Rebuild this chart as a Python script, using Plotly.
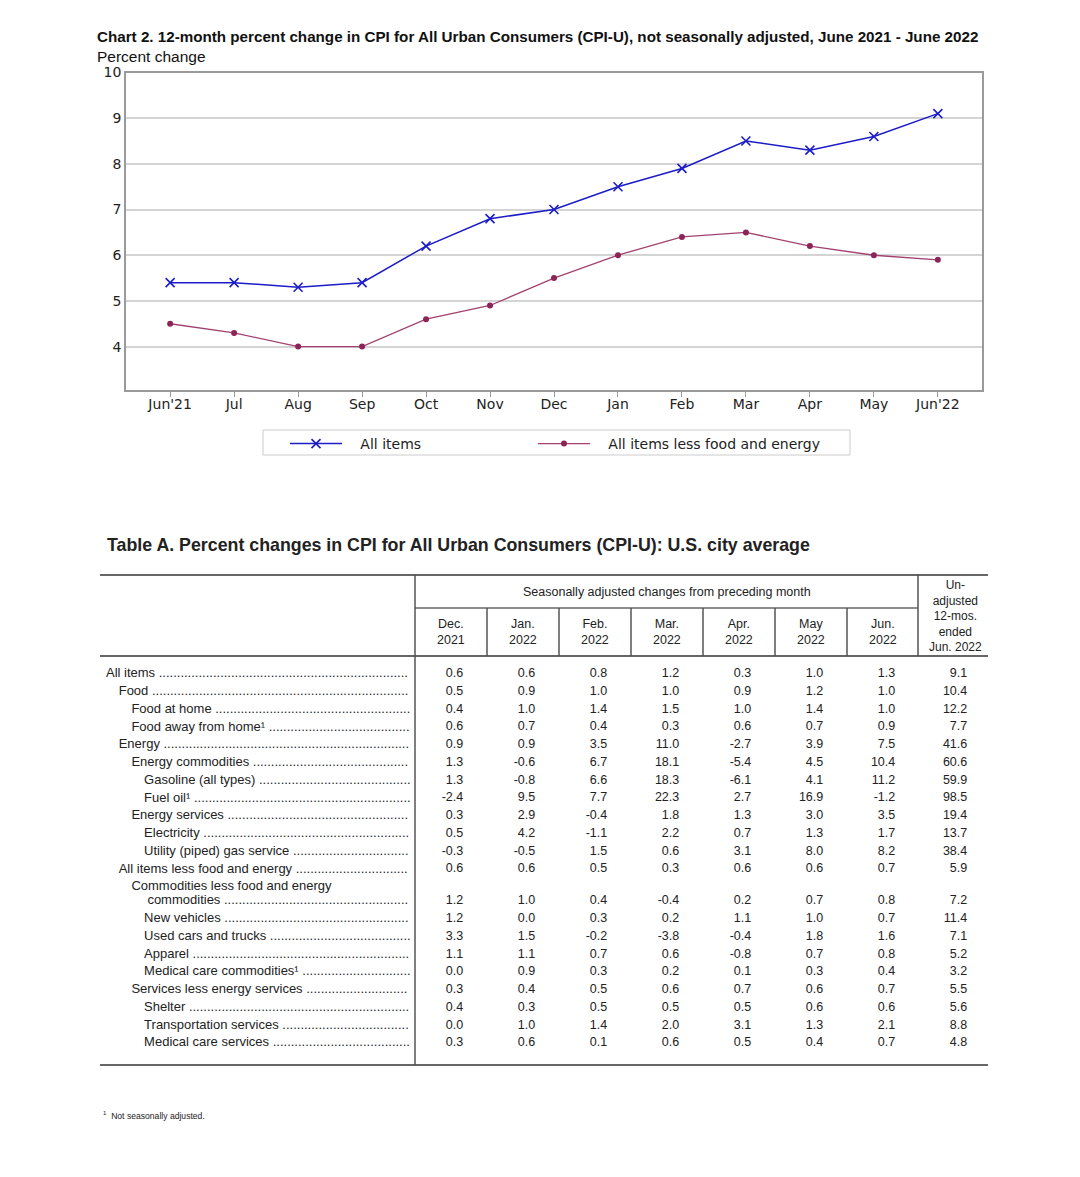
import plotly.graph_objects as go

# page has an 8px body margin; figure is sized so that it fits the 1080x1177 window
OFF = 8
W, H = 1080 - 2 * OFF, 1177 - 2 * OFF

# ---------------- chart data ----------------
months = ["Jun'21", "Jul", "Aug", "Sep", "Oct", "Nov", "Dec", "Jan", "Feb", "Mar", "Apr", "May", "Jun'22"]
all_items = [5.4, 5.4, 5.3, 5.4, 6.2, 6.8, 7.0, 7.5, 7.9, 8.5, 8.3, 8.6, 9.1]
core_items = [4.5, 4.3, 4.0, 4.0, 4.6, 4.9, 5.5, 6.0, 6.4, 6.5, 6.2, 6.0, 5.9]

# ---------------- table data ----------------
row_labels = [
    "All items", "Food", "Food at home", "Food away from home¹", "Energy",
    "Energy commodities", "Gasoline (all types)", "Fuel oil¹", "Energy services",
    "Electricity", "Utility (piped) gas service", "All items less food and energy",
    "Commodities less food and energy<br>commodities", "New vehicles",
    "Used cars and trucks", "Apparel", "Medical care commodities¹",
    "Services less energy services", "Shelter", "Transportation services",
    "Medical care services",
]
row_levels = [0, 1, 2, 2, 1, 2, 3, 3, 2, 3, 3, 1, 2, 3, 3, 3, 3, 2, 3, 3, 3]
col_headers = ["Dec.<br>2021", "Jan.<br>2022", "Feb.<br>2022", "Mar.<br>2022",
               "Apr.<br>2022", "May<br>2022", "Jun.<br>2022"]
unadj_header = "Un-<br>adjusted<br>12-mos.<br>ended<br>Jun. 2022"

dec_2021 = [0.6, 0.5, 0.4, 0.6, 0.9, 1.3, 1.3, -2.4, 0.3, 0.5, -0.3, 0.6, 1.2, 1.2, 3.3, 1.1, 0.0, 0.3, 0.4, 0.0, 0.3]
jan_2022 = [0.6, 0.9, 1.0, 0.7, 0.9, -0.6, -0.8, 9.5, 2.9, 4.2, -0.5, 0.6, 1.0, 0.0, 1.5, 1.1, 0.9, 0.4, 0.3, 1.0, 0.6]
feb_2022 = [0.8, 1.0, 1.4, 0.4, 3.5, 6.7, 6.6, 7.7, -0.4, -1.1, 1.5, 0.5, 0.4, 0.3, -0.2, 0.7, 0.3, 0.5, 0.5, 1.4, 0.1]
mar_2022 = [1.2, 1.0, 1.5, 0.3, 11.0, 18.1, 18.3, 22.3, 1.8, 2.2, 0.6, 0.3, -0.4, 0.2, -3.8, 0.6, 0.2, 0.6, 0.5, 2.0, 0.6]
apr_2022 = [0.3, 0.9, 1.0, 0.6, -2.7, -5.4, -6.1, 2.7, 1.3, 0.7, 3.1, 0.6, 0.2, 1.1, -0.4, -0.8, 0.1, 0.7, 0.5, 3.1, 0.5]
may_2022 = [1.0, 1.2, 1.4, 0.7, 3.9, 4.5, 4.1, 16.9, 3.0, 1.3, 8.0, 0.6, 0.7, 1.0, 1.8, 0.7, 0.3, 0.6, 0.6, 1.3, 0.4]
jun_2022 = [1.3, 1.0, 1.0, 0.9, 7.5, 10.4, 11.2, -1.2, 3.5, 1.7, 8.2, 0.7, 0.8, 0.7, 1.6, 0.8, 0.4, 0.7, 0.6, 2.1, 0.7]
unadj_12mo = [9.1, 10.4, 12.2, 7.7, 41.6, 60.6, 59.9, 98.5, 19.4, 13.7, 38.4, 5.9, 7.2, 11.4, 7.1, 5.2, 3.2, 5.5, 5.6, 8.8, 4.8]
table_columns = [dec_2021, jan_2022, feb_2022, mar_2022, apr_2022, may_2022, jun_2022, unadj_12mo]


def px(x):
    return (x - OFF) / W


def py(y):
    return 1 - (y - OFF) / H


BLUE = "#1c1cc8"
PLUM_LINE = "#a2426f"
PLUM_MARK = "#8c2457"
TXT = "#222222"
TFONT = "Liberation Sans, Arial, sans-serif"
CFONT = "DejaVu Sans, Verdana, sans-serif"
NARROW = "Liberation Sans Narrow, Liberation Sans, Arial"
NB = "\u00a0"
LABEL_SIZE = 13

# approximate Arial advance widths (per 1000 em) used to size the dot leaders
_AW = {" ": 278, ".": 278, "i": 222, "j": 222, "l": 222, "f": 278, "t": 278, "r": 333,
       "(": 333, ")": 333, "¹": 333, "c": 500, "k": 500, "s": 500, "v": 500, "x": 500,
       "y": 500, "z": 500, "m": 833, "w": 722, "A": 667, "C": 722, "E": 667, "F": 611,
       "G": 778, "M": 833, "N": 722, "S": 667, "T": 611, "U": 722}


def text_w(s, size):
    return sum(_AW.get(ch, 556) for ch in s) * size / 1000.0


fig = go.Figure()

# ---------------- line chart ----------------
fig.add_trace(go.Scatter(
    x=months, y=all_items, name=NB * 3 + "All items", mode="lines+markers",
    line=dict(color=BLUE, width=1.5),
    marker=dict(symbol="x-thin", size=9, line=dict(color=BLUE, width=1.6)),
    xaxis="x", yaxis="y", legend="legend",
))
fig.add_trace(go.Scatter(
    x=months, y=core_items, name=NB * 3 + "All items less food and energy", mode="lines+markers",
    line=dict(color=PLUM_LINE, width=1.3),
    marker=dict(symbol="circle", size=6, color=PLUM_MARK),
    xaxis="x", yaxis="y", legend="legend2",
))

# ---------------- table ----------------
LABEL_COL_W = 311
label_pos = []   # (y, text, indent_px)
value_pos = []
pos = -1.0
for lab, lev in zip(row_labels, row_levels):
    pos += 1.0
    parts = lab.split("<br>")
    indent = 6 + 12.7 * lev
    for i, part in enumerate(parts):
        last = i == len(parts) - 1
        ind = indent + (16 if i > 0 else 0)
        txt = part
        if last:
            free = LABEL_COL_W - ind - text_w(part + " ", LABEL_SIZE)
            n = max(0, int(free / (278 * LABEL_SIZE / 1000.0)))
            txt = part + " " + "." * n
        label_pos.append((pos, txt, ind))
        if not last:
            pos += 0.8
    value_pos.append(pos)

num_x, num_y, num_t = [], [], []
for c, col in enumerate(table_columns):
    for r, v in enumerate(col):
        num_x.append(c + 0.17)
        num_y.append(value_pos[r])
        num_t.append(f"{v:.1f}")

fig.add_trace(go.Scatter(
    x=num_x, y=num_y, text=num_t, mode="text", textposition="middle left",
    textfont=dict(family=TFONT, size=12.5, color=TXT),
    xaxis="x2", yaxis="y2", showlegend=False, hoverinfo="skip",
))

fig.add_trace(go.Scatter(
    x=[p[2] for p in label_pos], y=[p[0] for p in label_pos],
    text=[p[1] for p in label_pos],
    mode="text", textposition="middle right", cliponaxis=True,
    textfont=dict(family=TFONT, size=LABEL_SIZE, color=TXT),
    xaxis="x3", yaxis="y2", showlegend=False, hoverinfo="skip",
))

row_h = 17.75
t_top_px, t_bot_px, first_row_px = 575, 1065, 674
y_top = -(first_row_px - t_top_px) / row_h
y_bot = y_top + (t_bot_px - t_top_px) / row_h

leg_common = dict(orientation="h", y=py(428), xanchor="left", yanchor="top",
                  font=dict(family=CFONT, size=14, color=TXT),
                  bgcolor="rgba(0,0,0,0)", borderwidth=0, itemwidth=52)

fig.update_layout(
    template="none",
    width=W, height=H, margin=dict(l=0, r=0, t=0, b=0, pad=0, autoexpand=False),
    paper_bgcolor="white", plot_bgcolor="white",
    showlegend=True,
    legend=dict(x=px(285), **leg_common),
    legend2=dict(x=px(533), **leg_common),
    xaxis=dict(domain=[px(126), px(982)], range=[-0.69, 12.69], type="category",
               showgrid=False, showline=True, linecolor="#9a9a9a", linewidth=1.5, mirror=True,
               ticks="outside", ticklen=5, tickcolor="#9a9a9a", ticklabelstandoff=-5,
               tickfont=dict(family=CFONT, size=14, color=TXT),
               anchor="y", zeroline=False, fixedrange=True, automargin=False),
    yaxis=dict(domain=[py(390), py(72.5)], range=[3.05, 10], dtick=1, tick0=0,
               showgrid=True, gridcolor="#d4d4d4", gridwidth=1.5,
               showline=True, linecolor="#9a9a9a", linewidth=1.5, mirror=True,
               ticks="", tickfont=dict(family=CFONT, size=14, color=TXT),
               anchor="x", zeroline=False, fixedrange=True, automargin=False),
    xaxis2=dict(domain=[px(415), px(988)], range=[-0.5, (988 - 415) / 72 - 0.5],
                visible=False, anchor="y2", fixedrange=True, automargin=False),
    yaxis2=dict(domain=[py(t_bot_px), py(t_top_px)], range=[y_bot, y_top],
                visible=False, anchor="x2", fixedrange=True, automargin=False),
    xaxis3=dict(domain=[px(100), px(100 + LABEL_COL_W)], range=[0, LABEL_COL_W], visible=False,
                anchor="y2", fixedrange=True, automargin=False),
)

shapes = []


def hline(y, x0, x1, w=1.5, c="#666666"):
    shapes.append(dict(type="line", xref="paper", yref="paper", x0=px(x0), x1=px(x1),
                       y0=py(y), y1=py(y), line=dict(color=c, width=w)))


def vline(x, y0, y1, w=1.5, c="#555555"):
    shapes.append(dict(type="line", xref="paper", yref="paper", x0=px(x), x1=px(x),
                       y0=py(y0), y1=py(y1), line=dict(color=c, width=w)))


shapes.append(dict(type="rect", xref="paper", yref="paper", x0=px(263), x1=px(850),
                   y0=py(455), y1=py(430), line=dict(color="#cccccc", width=1)))

hline(575, 100, 988, 2)
hline(656, 100, 988, 2)
hline(1065, 100, 988, 2)
hline(608, 415, 918, 1.5)
vline(415, 575, 1065)
vline(918, 575, 656)
for i in range(1, 7):
    vline(415 + 72 * i, 608, 656)
fig.update_layout(shapes=shapes)

ann = []


def note(text, x, y, size, fam=TFONT, anchor="left", color=TXT):
    ann.append(dict(text=text, x=px(x), y=py(y), xref="paper", yref="paper",
                    xanchor=anchor, yanchor="middle", showarrow=False, align="center",
                    font=dict(family=fam, size=size, color=color)))


note("<b>Chart 2. 12-month percent change in CPI for All Urban Consumers (CPI-U), not seasonally adjusted, June 2021 - June 2022</b>",
     95, 37, 15.2, NARROW, color="#111")
note("Percent change", 95, 56, 15.5, NARROW, color="#111")
note("<b>Table A. Percent changes in CPI for All Urban Consumers (CPI-U): U.S. city average</b>",
     105, 545, 17.8, TFONT, color="#222")
note("Seasonally adjusted changes from preceding month", 667, 592, 12.5, anchor="center")
for i, h in enumerate(col_headers):
    note(h, 451 + 72 * i, 632, 12.5, anchor="center")
note(unadj_header, 955, 616, 12, anchor="center")
note("<sup>1</sup>  Not seasonally adjusted.", 101, 1115, 8.6)
fig.update_layout(annotations=ann)

fig.write_html("out.html")
